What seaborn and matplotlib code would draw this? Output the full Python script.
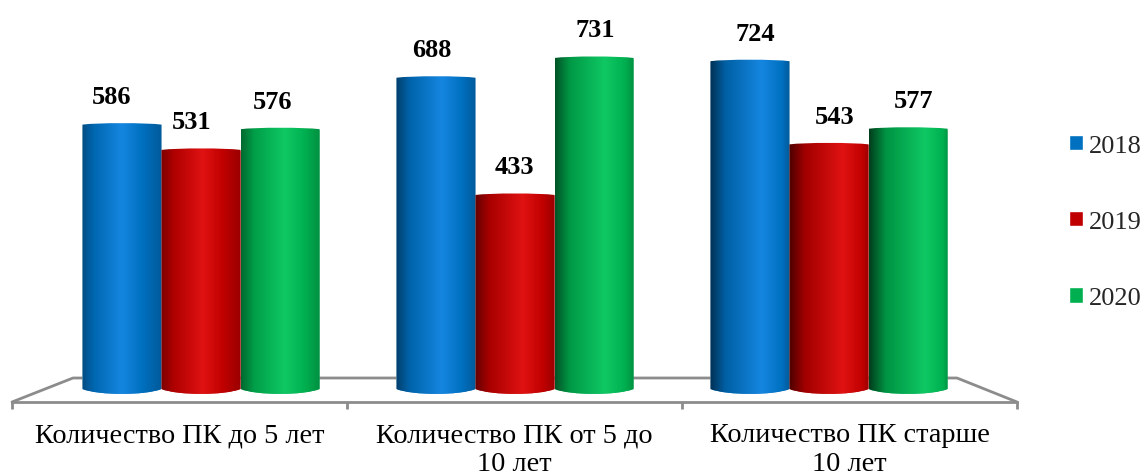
import numpy as np
import pandas as pd
import seaborn as sns
import matplotlib.pyplot as plt
from matplotlib.path import Path
from matplotlib.patches import PathPatch
from matplotlib.colors import LinearSegmentedColormap, to_rgb

# data
categories = ["Количество ПК до 5 лет", "Количество ПК от 5 до\n10 лет", "Количество ПК старше\n10 лет"]
years = ["2018", "2019", "2020"]
values_2018 = [586, 688, 724]
values_2019 = [531, 433, 543]
values_2020 = [576, 731, 577]

# ------------------------------- setting start ------------------------------ #
W, H = 1144, 477
colors = ["#0070C0", "#C00000", "#00B050"]
highlights = ["#1586e0", "#e01212", "#0fc864"]
gray = "#8c8c8c"
label_dx = [-10, -9, -7, -4, -1, 1, 5, 6, 6]  # px, perspective shift of the value labels
base_px = 395  # pixel row of value 0
px_per_unit = 0.4597
# -------------------------------- setting end ------------------------------- #

sns.set_theme(style="white")
plt.rcParams["font.family"] = ["Liberation Serif", "DejaVu Serif"]

df = pd.DataFrame({
    "category": categories * 3,
    "year": [y for y in years for _ in categories],
    "value": values_2018 + values_2019 + values_2020,
})

fig = plt.figure(figsize=(W / 100, H / 100), dpi=100)

# floor plane, holds the axis line, ticks and category labels
floor = fig.add_axes([12 / W, 1 - 403 / H, 1005 / W, 24 / H], zorder=0)
floor.set(xlim=(0, 3), ylim=(0, 1))
floor.patch.set_alpha(0)
for s in ["top", "left", "right"]:
    floor.spines[s].set_visible(False)
floor.spines["bottom"].set(color=gray, linewidth=2)
floor.plot([0, 61 / 1005, 945 / 1005, 1], [0, 1, 1, 0], color=gray, lw=2,
           transform=floor.transAxes, clip_on=False, solid_capstyle="round")
floor.set_xticks([0, 1, 2, 3])
floor.set_xticklabels([])
floor.tick_params(axis="x", which="major", bottom=True, length=5, width=2, color=gray)
floor.set_xticks([0.5, 1.5, 2.5], labels=categories, minor=True)
floor.tick_params(axis="x", which="minor", bottom=False, pad=10.5, labelsize=20.3, labelcolor="black")
for lab in floor.get_xticklabels(minor=True):
    lab.set_linespacing(1.2)
floor.set_yticks([])

# bars
ylim = (0, base_px / px_per_unit)
ax = fig.add_axes([44 / W, 1 - base_px / H, 942 / W, base_px / H], zorder=1)
ax.patch.set_alpha(0)
sns.barplot(data=df, x="category", y="value", hue="year", palette=colors, width=0.755,
            gap=0, saturation=1, errorbar=None, ax=ax)
ax.set(xlim=(-0.5, 2.5), ylim=ylim, xlabel="", ylabel="")
ax.set_xticks([])
ax.set_yticks([])
sns.despine(ax=ax, left=True, bottom=True)

# legend
ax.legend(title="", loc="center left", bbox_to_anchor=(1069 / W, 1 - 223 / H),
          bbox_transform=fig.transFigure, frameon=False, fontsize=19, borderpad=0, borderaxespad=0,
          handlelength=0.53, handleheight=0.53, handletextpad=0.22, labelspacing=2.05)

# cylinders: gradient clipped to the bar outline
bars = sorted([p for p in ax.patches if p.get_height() > 0], key=lambda p: p.get_x())
for i, bar in enumerate(bars):
    x0, w, top = bar.get_x(), bar.get_width(), bar.get_height()
    base = np.array(to_rgb(colors[i % 3]))
    # light comes from the left of the chart, so the far bars have darker left sides
    left_dark = 0.68 - 0.33 * i / 8
    peak = 0.5 + 0.2 * i / 8
    cmap = LinearSegmentedColormap.from_list("c", [
        (0, base * left_dark),
        (peak * 0.3, base * (left_dark + 3) / 4),
        (peak, to_rgb(highlights[i % 3])),
        (min(peak + 0.25, 0.93), base),
        (1, base * 0.8),
    ])
    rise, drop = 2 / px_per_unit, 5 / px_per_unit
    xm, x1 = x0 + w / 2, x0 + w
    verts = [(x0, top), (x0 + w * 0.2, top + rise), (x1 - w * 0.2, top + rise), (x1, top),
             (x1, drop), (x1 - w * 0.2, -drop * 0.3), (x0 + w * 0.2, -drop * 0.3), (x0, drop), (x0, top)]
    codes = [Path.MOVETO, Path.CURVE4, Path.CURVE4, Path.CURVE4, Path.LINETO,
             Path.CURVE4, Path.CURVE4, Path.CURVE4, Path.CLOSEPOLY]
    outline = PathPatch(Path(verts, codes), transform=ax.transData, fc="none", ec="none")
    ax.add_patch(outline)
    im = ax.imshow(np.linspace(0, 1, 256).reshape(1, -1), cmap=cmap, aspect="auto",
                   extent=(x0, x1, -drop, top + rise), zorder=3, interpolation="bilinear")
    im.set_clip_path(outline)
    bar.set_clip_path(outline)
    ax.annotate(str(int(top)), (xm, top), xytext=(label_dx[i] * 0.72, 28 * 0.72), textcoords="offset points",
                ha="center", va="center", fontsize=19, fontweight="bold", color="black", annotation_clip=False)

ax.set(xlim=(-0.5, 2.5), ylim=ylim)

fig.savefig("out.png", dpi=100)
